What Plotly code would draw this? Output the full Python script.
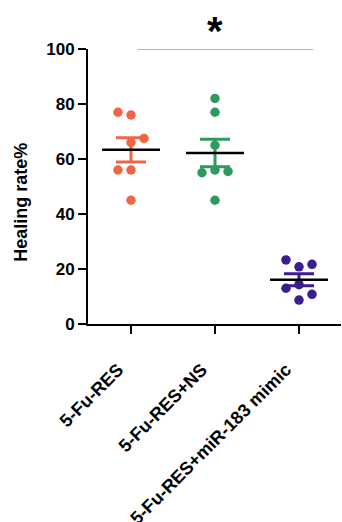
import numpy as np
import plotly.graph_objects as go

categories = ["5-Fu-RES", "5-Fu-RES+NS", "5-Fu-RES+miR-183 mimic"]
vals_res = [77.0, 76.0, 67.5, 66.0, 56.0, 56.0, 45.0]
vals_ns = [82.0, 77.0, 65.0, 55.0, 56.0, 55.5, 45.0]
vals_mimic = [23.3, 20.8, 21.7, 13.0, 14.3, 10.8, 8.7]
jitter_res = [-0.155, 0.0, 0.155, 0.0, -0.155, 0.0, 0.0]
jitter_ns = [0.0, 0.0, 0.0, -0.155, 0.0, 0.155, 0.0]
jitter_mimic = [-0.155, 0.0, 0.155, -0.155, 0.0, 0.155, 0.0]
colors = ["#EE6644", "#2F9A5E", "#3B1D8E"]
y_ticks = [0, 20, 40, 60, 80, 100]
y_title = "Healing rate%"
sig_from, sig_to, sig_level, sig_label, sig_label_x = 0.08, 2.17, 100, "*", 1

groups = [vals_res, vals_ns, vals_mimic]
jitters = [jitter_res, jitter_ns, jitter_mimic]

FONT = "Liberation Sans, Arial, sans-serif"
fig = go.Figure()

for i, (vals, jit, col) in enumerate(zip(groups, jitters, colors)):
    v = np.array(vals)
    mean = v.mean()
    sem = v.std(ddof=1) / np.sqrt(len(v))
    fig.add_trace(go.Scatter(
        x=[i + j for j in jit], y=vals, mode="markers",
        marker=dict(size=9.5, color=col), showlegend=False, hoverinfo="skip"))
    fig.add_trace(go.Scatter(
        x=[i], y=[mean], mode="markers",
        marker=dict(size=1, color=col, opacity=0),
        error_y=dict(type="data", array=[sem], visible=True, color=col,
                     thickness=3, width=15),
        showlegend=False, hoverinfo="skip"))
    fig.add_trace(go.Scatter(
        x=[i - 0.345, i + 0.345], y=[mean, mean], mode="lines",
        line=dict(color="black", width=2.5), showlegend=False, hoverinfo="skip"))

fig.add_shape(type="line", xref="x", yref="y", x0=sig_from, x1=sig_to,
              y0=sig_level, y1=sig_level, line=dict(color="#999999", width=1.5))
fig.add_annotation(x=sig_label_x, y=sig_level, xref="x", yref="y",
                   text=sig_label, showarrow=False, yshift=18,
                   font=dict(family=FONT, size=40, color="black", weight="bold"))
# y-axis title (placed slightly below the axis centre, as in the reference)
fig.add_annotation(x=-0.265, y=0.444, xref="paper", yref="paper",
                   xanchor="center", yanchor="middle", textangle=-90,
                   text=y_title, showarrow=False,
                   font=dict(family=FONT, size=18, color="black", weight="bold"))

fig.update_layout(
    width=342, height=522,
    margin=dict(l=88, r=1, t=49, b=198),
    paper_bgcolor="white", plot_bgcolor="white",
    xaxis=dict(range=[-0.512, 2.5], tickmode="array", tickvals=[0, 1, 2],
               ticktext=categories, tickangle=-45, showgrid=False, zeroline=False,
               showline=True, linecolor="black", linewidth=2, automargin=False,
               ticks="outside", ticklen=8, tickwidth=2, tickcolor="black",
               ticklabelstandoff=18, ticklabelshift=-13,
               tickfont=dict(family=FONT, size=18, color="black", weight="bold")),
    yaxis=dict(range=[0, 100], tickmode="array", tickvals=y_ticks,
               showgrid=False, zeroline=False, automargin=False,
               showline=True, linecolor="black", linewidth=2,
               ticks="outside", ticklen=8, tickwidth=2, tickcolor="black",
               tickfont=dict(family=FONT, size=17, color="black", weight="bold")),
)

fig.write_html("out.html", config={"displayModeBar": False},
               post_script="document.body.style.margin='0px';")
